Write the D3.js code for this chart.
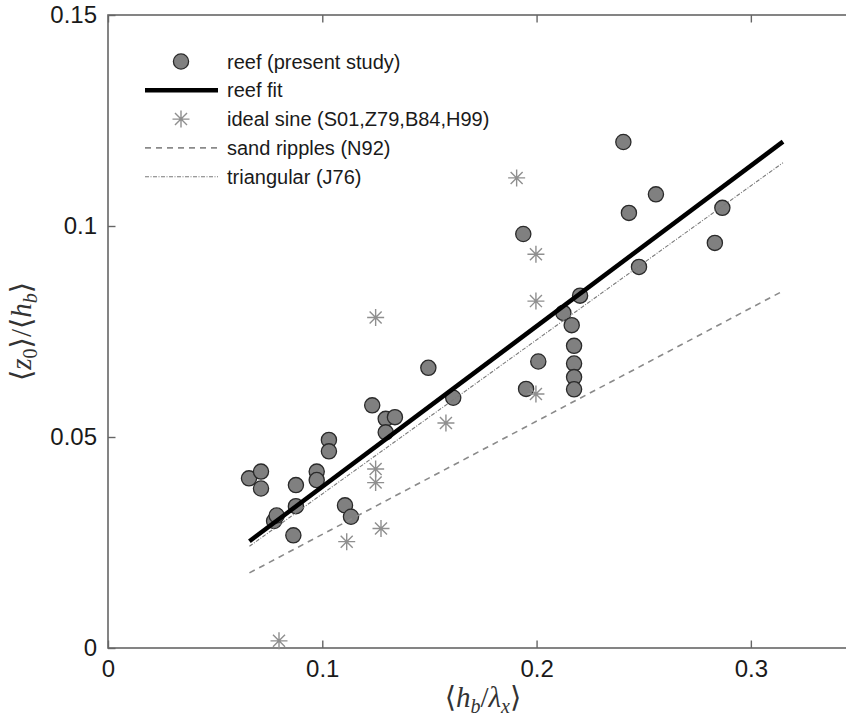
<!DOCTYPE html>
<html lang="en">
<head>
<meta charset="UTF-8">
<script src="https://d3js.org/d3.v7.min.js"></script>
<title>roughness</title>
<style>
  body { margin: 0; background: #fff; overflow: hidden; }
  svg { display: block; }
  text { font-family: "Liberation Sans", Arial, sans-serif; }
  .math { font-family: "Liberation Serif", "DejaVu Serif", serif; }
</style>
</head>
<body>
<div id="canvas"></div>
<script>
// reef (present study)
const reefX = [0.0658, 0.0714, 0.0714, 0.0775, 0.0787, 0.0865, 0.0877, 0.0877, 0.0974, 0.0974,
               0.1031, 0.1031, 0.1106, 0.1134, 0.1233, 0.1296, 0.1339, 0.1296, 0.1495, 0.1611,
               0.1938, 0.1951, 0.2008, 0.2125, 0.2164, 0.2175, 0.2175, 0.2175, 0.2175, 0.2203,
               0.2405, 0.2431, 0.2478, 0.2557, 0.2832, 0.2867]
const reefY = [0.0402, 0.0418, 0.0378, 0.0301, 0.0314, 0.0267, 0.0336, 0.0386, 0.0418, 0.0398,
               0.0493, 0.0466, 0.0338, 0.0311, 0.0575, 0.0543, 0.0547, 0.0511, 0.0664, 0.0593,
               0.0981, 0.0614, 0.0679, 0.0794, 0.0765, 0.0716, 0.0674, 0.0642, 0.0613, 0.0835,
               0.1199, 0.1031, 0.0903, 0.1075, 0.0960, 0.1043]
// ideal sine (S01,Z79,B84,H99)
const sineX = [0.0798, 0.1114, 0.1249, 0.1249, 0.1249, 0.1274, 0.1577, 0.1907, 0.1997, 0.1997, 0.1997]
const sineY = [0.0017, 0.0252, 0.0783, 0.0424, 0.0392, 0.0283, 0.0533, 0.1114, 0.0933, 0.0822, 0.0602]
// line end points
const lineX = [0.066, 0.315]
const fitY = [0.0253, 0.1200]
const rippleY = [0.0178, 0.0846]
const triY = [0.0241, 0.1150]

const xTicks = [0, 0.1, 0.2, 0.3]
const yTicks = [0, 0.05, 0.1, 0.15]
const xTickLabels = ["0", "0.1", "0.2", "0.3"]
const yTickLabels = ["0", "0.05", "0.1", "0.15"]
const legendLabels = ["reef (present study)", "reef fit", "ideal sine (S01,Z79,B84,H99)",
                      "sand ripples (N92)", "triangular (J76)"]

const W = 846, H = 722
const L = 108, R = 858, T = 15, B = 648
const svg = d3.select("#canvas").append("svg").attr("width", W).attr("height", H)

const x = d3.scaleLinear().domain([0, 0.35]).range([L, R])
const y = d3.scaleLinear().domain([0, 0.15]).range([B, T])

const axisCol = "#666"
const tickLen = 7.5

// box (right side falls outside the picture)
svg.append("rect").attr("x", L).attr("y", T).attr("width", R - L).attr("height", B - T)
   .attr("fill", "none").attr("stroke", axisCol).attr("stroke-width", 1.6)

// ticks inward (bottom/top, left/right)
const gx = svg.append("g").attr("transform", `translate(0,${B})`)
    .call(d3.axisBottom(x).tickValues(xTicks).tickSize(-tickLen).tickPadding(12)
          .tickFormat((d, i) => xTickLabels[i]))
const gxt = svg.append("g").attr("transform", `translate(0,${T})`)
    .call(d3.axisTop(x).tickValues(xTicks).tickSize(-tickLen).tickFormat(""))
const gy = svg.append("g").attr("transform", `translate(${L},0)`)
    .call(d3.axisLeft(y).tickValues(yTicks).tickSize(-tickLen).tickPadding(11)
          .tickFormat((d, i) => yTickLabels[i]))
const gyr = svg.append("g").attr("transform", `translate(${R},0)`)
    .call(d3.axisRight(y).tickValues(yTicks).tickSize(-tickLen).tickFormat(""))
;[gx, gxt, gy, gyr].forEach(g => {
  g.select(".domain").remove()
  g.selectAll(".tick line").attr("stroke", axisCol).attr("stroke-width", 1.4)
  g.selectAll(".tick text").attr("fill", "#1a1a1a").attr("font-size", 24)
   .attr("font-family", "Liberation Sans, Arial, sans-serif")
})
gx.selectAll(".tick text").attr("dy", "0.72em")

// reef points
svg.append("g").selectAll("circle").data(reefX).enter().append("circle")
   .attr("cx", d => x(d)).attr("cy", (d, i) => y(reefY[i])).attr("r", 7.6)
   .attr("fill", "#808080").attr("stroke", "#2a2a2a").attr("stroke-width", 1.3)

// reef fit
const line = d3.line().x(d => x(d[0])).y(d => y(d[1]))
svg.append("path").datum(lineX.map((d, i) => [d, fitY[i]])).attr("d", line)
   .attr("stroke", "#000").attr("stroke-width", 4.5).attr("fill", "none")

// asterisk marker
function star(cx, cy, s) {
  const a = s * 0.7071
  return `M${cx - s},${cy}L${cx + s},${cy}M${cx},${cy - s}L${cx},${cy + s}` +
         `M${cx - a},${cy - a}L${cx + a},${cy + a}M${cx - a},${cy + a}L${cx + a},${cy - a}`
}
svg.append("g").selectAll("path").data(sineX).enter().append("path")
   .attr("d", (d, i) => star(x(d), y(sineY[i]), 8.5))
   .attr("stroke", "#8f8f8f").attr("stroke-width", 1.4).attr("fill", "none")

// sand ripples
svg.append("path").datum(lineX.map((d, i) => [d, rippleY[i]])).attr("d", line)
   .attr("stroke", "#8a8a8a").attr("stroke-width", 1.6).attr("fill", "none")
   .attr("stroke-dasharray", "6,5")
// triangular
svg.append("path").datum(lineX.map((d, i) => [d, triY[i]])).attr("d", line)
   .attr("stroke", "#7a7a7a").attr("stroke-width", 1.1).attr("fill", "none")
   .attr("stroke-dasharray", "4,1.5,1,1.5")

// legend
const lg = svg.append("g")
const rowY = i => 61.5 + i * 28.8
lg.append("circle").attr("cx", 181).attr("cy", rowY(0)).attr("r", 7.6)
  .attr("fill", "#808080").attr("stroke", "#2a2a2a").attr("stroke-width", 1.3)
lg.append("line").attr("x1", 145).attr("x2", 218).attr("y1", rowY(1)).attr("y2", rowY(1))
  .attr("stroke", "#000").attr("stroke-width", 4.5)
lg.append("path").attr("d", star(181, rowY(2), 8.5))
  .attr("stroke", "#8f8f8f").attr("stroke-width", 1.4)
lg.append("line").attr("x1", 145).attr("x2", 218).attr("y1", rowY(3)).attr("y2", rowY(3))
  .attr("stroke", "#8a8a8a").attr("stroke-width", 1.6).attr("stroke-dasharray", "6,5")
lg.append("line").attr("x1", 145).attr("x2", 218).attr("y1", rowY(4)).attr("y2", rowY(4))
  .attr("stroke", "#7a7a7a").attr("stroke-width", 1.1).attr("stroke-dasharray", "4,1.5,1,1.5")
lg.selectAll("text").data(legendLabels).enter().append("text")
  .attr("x", 227).attr("y", (d, i) => rowY(i)).attr("dy", "0.35em")
  .attr("font-size", 20).attr("fill", "#1a1a1a").text(d => d)

// axis labels
const big = 29, small = 20, sh = 6
const xl = svg.append("text").attr("class", "math").attr("x", (L + R) / 2).attr("y", 707)
   .attr("text-anchor", "middle").attr("font-size", big).attr("fill", "#333")
xl.append("tspan").text("\u27E8")
xl.append("tspan").attr("font-style", "italic").text("h")
xl.append("tspan").attr("font-style", "italic").attr("font-size", small).attr("dy", sh).text("b")
xl.append("tspan").attr("dy", -sh).text("/")
xl.append("tspan").attr("font-style", "italic").text("\u03BB")
xl.append("tspan").attr("font-style", "italic").attr("font-size", small).attr("dy", sh).text("x")
xl.append("tspan").attr("dy", -sh).text("\u27E9")

const yl = svg.append("text").attr("class", "math")
   .attr("transform", `translate(31,${(T + B) / 2}) rotate(-90)`)
   .attr("text-anchor", "middle").attr("font-size", big).attr("fill", "#333")
yl.append("tspan").text("\u27E8")
yl.append("tspan").attr("font-style", "italic").text("z")
yl.append("tspan").attr("font-size", small).attr("dy", sh).text("0")
yl.append("tspan").attr("dy", -sh).text("\u27E9/\u27E8")
yl.append("tspan").attr("font-style", "italic").text("h")
yl.append("tspan").attr("font-style", "italic").attr("font-size", small).attr("dy", sh).text("b")
yl.append("tspan").attr("dy", -sh).text("\u27E9")
</script>
</body>
</html>
